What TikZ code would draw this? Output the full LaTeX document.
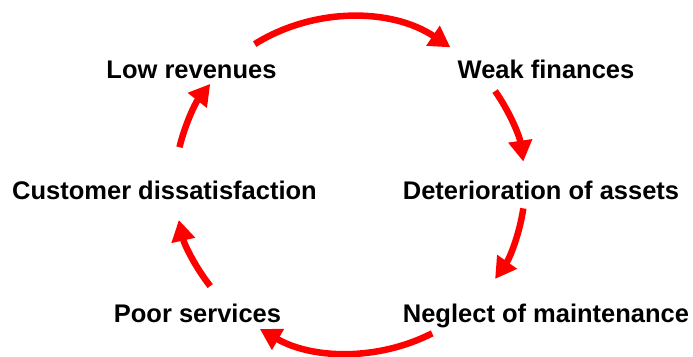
\documentclass[tikz,border=0pt]{standalone}
\usepackage{fontspec}
\setmainfont{Liberation Sans}
\usetikzlibrary{arrows.meta,calc}

\tikzset{
  stage/.style={anchor=base, inner sep=0pt, font=\fontsize{25.5}{30}\selectfont\bfseries},
  cyclearrow/.style={draw=red, line width=6.5pt, -{Triangle[length=21pt,width=23pt]}},
}

\begin{document}
\begin{tikzpicture}[x=1pt,y=1pt]

\useasboundingbox (0,0) rectangle (693,356);

% stages of the cycle
\node[stage] (low)  at (191.5,277.5) {Low revenues};
\node[stage] (weak) at (546,277.5)   {Weak finances};
\node[stage] (cust) at (164.5,156.5) {Customer dissatisfaction};
\node[stage] (det)  at (541,156.5)   {Deterioration of assets};
\node[stage] (poor) at (197.5,33.5)  {Poor services};
\node[stage] (neg)  at (546,33.5)    {Neglect of maintenance};

% centre of the loop
\coordinate (c) at (350,171);

\coordinate (a1) at ($(c)+(123:175pt and 168pt)$);
\coordinate (a2) at ($(c)+(34:175pt and 168pt)$);
\coordinate (a3) at ($(c)+(-8:175pt and 168pt)$);
\coordinate (a4) at ($(c)+(-62:175pt and 168pt)$);
\coordinate (a5) at ($(c)+(217:175pt and 168pt)$);
\coordinate (a6) at ($(c)+(167:175pt and 168pt)$);

\draw[cyclearrow] (a1) arc[start angle=123, end angle=55,  x radius=175pt, y radius=168pt];
\draw[cyclearrow] (a2) arc[start angle=34,  end angle=8,   x radius=175pt, y radius=168pt];
\draw[cyclearrow] (a3) arc[start angle=-8,  end angle=-34, x radius=175pt, y radius=168pt];
\draw[cyclearrow] (a4) arc[start angle=-62, end angle=-121,x radius=175pt, y radius=168pt];
\draw[cyclearrow] (a5) arc[start angle=217, end angle=192, x radius=175pt, y radius=168pt];
\draw[cyclearrow] (a6) arc[start angle=167, end angle=143, x radius=175pt, y radius=168pt];

\end{tikzpicture}
\end{document}
